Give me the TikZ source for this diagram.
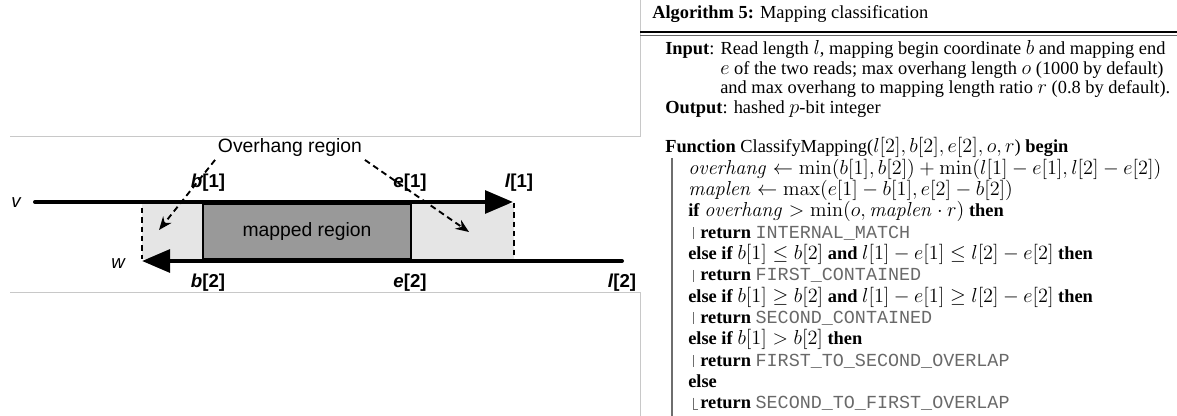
\RequirePackage{fix-cm}
\documentclass[tikz,border=0pt]{standalone}
\usepackage{amsmath}
\usepackage[no-math]{fontspec}
\setmainfont{Liberation Serif}
\setmonofont{Liberation Mono}
\newfontfamily\diagsans{Liberation Sans}
\usetikzlibrary{arrows.meta, positioning, calc}
\DeclareMathSizes{13.8}{15.2}{11}{8}

\definecolor{framegray}{RGB}{200,200,200}
\definecolor{hanggray}{RGB}{229,229,229}
\definecolor{mapgray}{RGB}{153,153,153}
\definecolor{codegray}{RGB}{105,105,105}
\definecolor{vlinegray}{RGB}{110,110,110}

\newcommand{\algkw}[1]{\textbf{#1}}
\newcommand{\algret}[1]{\texttt{\color{codegray}#1}}

\tikzset{
  readarrow/.style={line width=3pt, line cap=round, -{Triangle[length=21pt, width=17pt]}},
  hangarrow/.style={line width=1.4pt, dash pattern=on 4.5pt off 3pt, -{Stealth[length=10pt, width=8pt]}},
  hangedge/.style={line width=0.9pt, dash pattern=on 4pt off 3pt},
  poslabel/.style={font=\diagsans\fontsize{14}{16}\selectfont\bfseries, inner sep=1pt},
  readlabel/.style={font=\diagsans\fontsize{14}{16}\selectfont\itshape, inner sep=1pt},
  boxtext/.style={font=\diagsans\fontsize{14.5}{17}\selectfont, inner sep=2pt},
  algline/.style={anchor=base west, inner sep=0pt, font=\fontsize{13.8}{16}\selectfont},
  retbar/.style={vlinegray, line width=0.6pt},
}

\begin{document}
\begin{tikzpicture}[>=Stealth, x=0.75pt, y=-0.75pt]
\useasboundingbox (0,0) rectangle (1177,416);

% =============== FRAME ===============
\draw[framegray, line width=0.6pt] (10,136) -- (640,136) -- (640,0);
\draw[framegray, line width=0.6pt] (10,292) -- (640,292) -- (640,416);

% =============== MAPPING DIAGRAM ===============
\begin{scope}
% overhang and mapped regions
\fill[hanggray] (142,204) rectangle (514,259);
\draw[hangedge] (142,208) -- (142,259);
\draw[hangedge] (514,203) -- (514,259);
\draw[fill=mapgray, line width=0.9pt] (203,204) rectangle (411,259);
\node[boxtext] (mapped) at (307,232) {mapped region};

% the two reads
\node[readlabel] (vlab) at (16,203) {v};
\node[readlabel] (wlab) at (118,264) {w};
\coordinate (vstart) at (35,202);
\coordinate (vend) at (513,202);
\coordinate (wstart) at (622,261);
\coordinate (wend) at (142,261);
\draw[readarrow] (vstart) -- (vend);
\draw[readarrow] (wstart) -- (wend);

% coordinates on the reads
\node[poslabel] (b1) at (208,183) {\textit{b}[1]};
\node[poslabel] (e1) at (410,183) {\textit{e}[1]};
\node[poslabel] (l1) at (519,183) {\textit{l}[1]};
\node[poslabel] (b2) at (208,283) {\textit{b}[2]};
\node[poslabel] (e2) at (410,283) {\textit{e}[2]};
\node[poslabel] (l2) at (622,283) {\textit{l}[2]};

% overhang pointers
\node[boxtext] (overhang) at (290,148) {Overhang region};
\coordinate (lefthang) at (159,230);
\coordinate (righthang) at (469,232);
\draw[hangarrow] (overhang.south west) -- (lefthang);
\draw[hangarrow] (overhang.south east) -- (righthang);
\end{scope}

% =============== ALGORITHM ===============
\begin{scope}
\node[algline] (title) at (652,19) {\algkw{Algorithm 5:} Mapping classification};
\draw[line width=1.1pt] (640,32) -- (1177,32);
\draw[line width=0.4pt, black!60] (640,35) -- (1177,35);

\node[algline] (input) at (665,55) {\algkw{Input}: Read length $l$, mapping begin coordinate $b$ and mapping end};
\node[algline] (input2) at (720,74.5) {$e$ of the two reads; max overhang length $o$ (1000 by default)};
\node[algline] (input3) at (720,94) {and max overhang to mapping length ratio $r$ (0.8 by default).};
\node[algline] (output) at (665,113.5) {\algkw{Output}: hashed $p$-bit integer};

\node[algline] (func) at (665,153) {\algkw{Function} ClassifyMapping($l[2], b[2], e[2], o, r$) \algkw{begin}};
\draw[vlinegray, line width=1.1pt] (672,158) -- (672,416);

\node[algline] (ovh) at (688,174.3) {$\mathit{overhang} \leftarrow \min(b[1], b[2]) + \min(l[1]-e[1], l[2]-e[2])$};
\node[algline] (mlen) at (688,195.6) {$\mathit{maplen} \leftarrow \max(e[1]-b[1], e[2]-b[2])$};
\node[algline] (if1) at (688,216.9) {\algkw{if} $\mathit{overhang} > \min(o, \mathit{maplen}\cdot r)$ \algkw{then}};
\node[algline] (ret1) at (700,238.2) {\algkw{return} \algret{INTERNAL\_MATCH}};
\node[algline] (if2) at (688,259.5) {\algkw{else if} $b[1] \le b[2]$ \algkw{and} $l[1]-e[1] \le l[2]-e[2]$ \algkw{then}};
\node[algline] (ret2) at (700,280.8) {\algkw{return} \algret{FIRST\_CONTAINED}};
\node[algline] (if3) at (688,302.1) {\algkw{else if} $b[1] \ge b[2]$ \algkw{and} $l[1]-e[1] \ge l[2]-e[2]$ \algkw{then}};
\node[algline] (ret3) at (700,323.4) {\algkw{return} \algret{SECOND\_CONTAINED}};
\node[algline] (if4) at (688,344.7) {\algkw{else if} $b[1] > b[2]$ \algkw{then}};
\node[algline] (ret4) at (700,366) {\algkw{return} \algret{FIRST\_TO\_SECOND\_OVERLAP}};
\node[algline] (else) at (688,387.3) {\algkw{else}};
\node[algline] (ret5) at (700,408.6) {\algkw{return} \algret{SECOND\_TO\_FIRST\_OVERLAP}};

% block bars
\foreach \b in {238.2,280.8,323.4,366}{
  \draw[retbar] (693,\b-11) -- (693,\b+1);
}
\draw[retbar] (693,408.6-11) -- (693,408.6+1) -- (698,408.6+1);
\end{scope}

\end{tikzpicture}
\end{document}
